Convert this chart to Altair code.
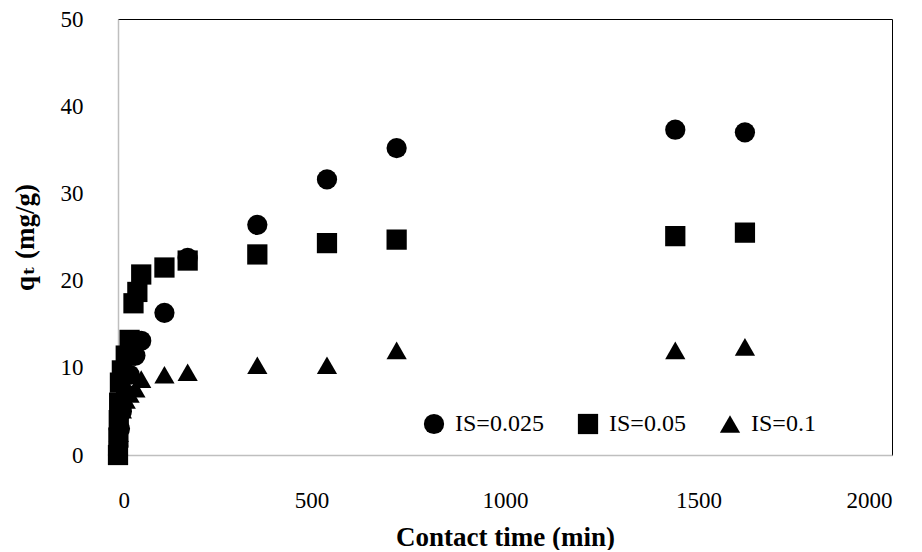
import altair as alt
import pandas as pd

series_names = ["IS=0.025", "IS=0.05", "IS=0.1"]

t_025 = [0, 5, 10, 20, 30, 45, 60, 120, 180, 360, 540, 720, 1440, 1620]
q_025 = [0, 3.0, 5.0, 7.0, 9.2, 11.4, 13.1, 16.3, 22.6, 26.4, 31.6, 35.2, 37.3, 37.0]

t_05 = [0, 1, 2, 3, 5, 10, 20, 30, 40, 50, 60, 120, 180, 360, 540, 720, 1440, 1620]
q_05 = [0, 2.0, 4.0, 6.0, 8.3, 9.7, 11.4, 13.2, 17.4, 18.7, 20.7, 21.5, 22.3, 23.0, 24.3, 24.7, 25.1, 25.5]

t_1 = [0, 2, 5, 10, 20, 30, 45, 60, 120, 180, 360, 540, 720, 1440, 1620]
q_1 = [0, 2.5, 4.0, 5.2, 6.3, 7.0, 7.6, 8.7, 9.2, 9.5, 10.3, 10.3, 12.0, 12.0, 12.4]

x_ticks = [0, 500, 1000, 1500, 2000]
y_ticks = [0, 10, 20, 30, 40, 50]

rows = []
for name, ts, qs in zip(series_names, [t_025, t_05, t_1], [q_025, q_05, q_1]):
    for t, q in zip(ts, qs):
        rows.append({"series": name, "t": t, "q": q})
df = pd.DataFrame(rows)

FONT = "Liberation Serif, DejaVu Serif, serif"

chart = alt.Chart(df).mark_point(
    filled=True, opacity=1, size=410, strokeWidth=0, color="black"
).encode(
    x=alt.X(
        "t:Q",
        scale=alt.Scale(domain=[0, 2000], nice=False),
        axis=alt.Axis(values=x_ticks, format="d", title="Contact time (min)",
                      labelPadding=34, titlePadding=12),
    ),
    y=alt.Y(
        "q:Q",
        scale=alt.Scale(domain=[0, 50], nice=False),
        axis=alt.Axis(values=y_ticks, format="d", title="qₜ (mg/g)", labelPadding=35,
                      titlePadding=21),
    ),
    shape=alt.Shape(
        "series:N",
        scale=alt.Scale(domain=series_names, range=["circle", "square", "triangle-up"]),
        legend=alt.Legend(
            title=None, orient="none", legendX=304, legendY=393,
            direction="horizontal", labelFont=FONT, labelFontSize=24,
            labelColor="black", symbolSize=410, symbolFillColor="black",
            symbolStrokeWidth=0, symbolOpacity=1, columnPadding=32,
            labelOffset=9, padding=0, labelLimit=0,
        ),
    ),
).properties(
    width=774,
    height=436,
    autosize=alt.AutoSizeParams(type="none"),
    padding={"left": 110, "top": 11, "right": 15, "bottom": 95},
).configure_view(
    stroke="black", strokeWidth=1
).configure_axis(
    domainColor="#bfbfbf", domainWidth=1.5, ticks=False, grid=False,
    labelFont=FONT, labelFontSize=23, labelColor="black",
    titleFont=FONT, titleFontSize=27, titleFontWeight="bold", titleColor="black",
)

chart.save("out.html", embed_options={"renderer": "svg", "actions": False})
